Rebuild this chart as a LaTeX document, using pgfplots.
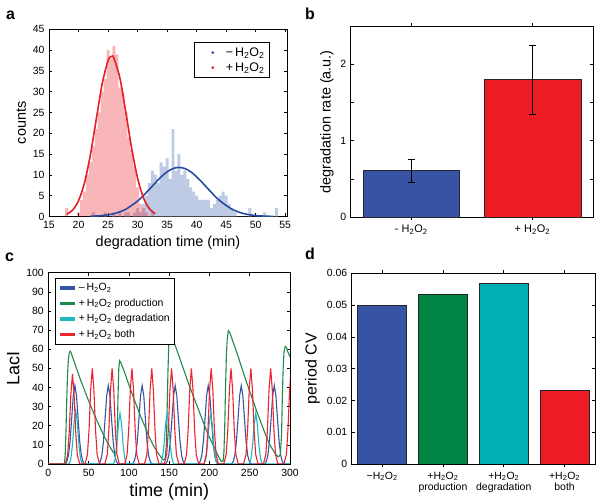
\documentclass[border=0pt]{standalone}
\usepackage{pgfplots}
\pgfplotsset{compat=1.18}
\usepackage{fontspec}
\setmainfont{Liberation Sans}
\definecolor{cblue}{RGB}{55,84,164}
\definecolor{cred}{RGB}{237,28,36}
\definecolor{cgreen}{RGB}{0,133,68}
\definecolor{ccyan}{RGB}{0,174,179}
\definecolor{lblue}{RGB}{52,84,164}
\definecolor{lgreen}{RGB}{30,138,75}
\definecolor{lcyan}{RGB}{30,185,190}
\definecolor{lred}{RGB}{237,35,45}
\definecolor{hblue}{RGB}{191,202,228}
\definecolor{kred}{RGB}{228,30,38}
\definecolor{kblue}{RGB}{40,75,162}
\newcommand\sub[1]{\textsubscript{#1}}
\pgfplotsset{mystyle/.style={
  scale only axis, anchor=south west,
  tick align=inside, major tick length=3bp, minor tick length=2bp,
  every tick/.style={black,line width=0.6bp},
  axis line style={line width=0.7bp},
  tick label style={font=\fontsize{10.5}{12}\selectfont},
  xticklabel style={yshift=-1.5bp},
  yticklabel style={xshift=-1bp},
  /pgf/number format/assume math mode=true,
  label style={font=\fontsize{14.5}{16}\selectfont},
}}
\begin{document}
\begin{tikzpicture}
\path[use as bounding box] (0bp,0bp) rectangle (601bp,501bp);
% panel labels
\node[font=\bfseries\fontsize{16}{17}\selectfont, anchor=base west, inner sep=0pt] at (6bp,481bp) {a};
\node[font=\bfseries\fontsize{16}{17}\selectfont, anchor=base west, inner sep=0pt] at (305bp,481bp) {b};
\node[font=\bfseries\fontsize{16}{17}\selectfont, anchor=base west, inner sep=0pt] at (5bp,239bp) {c};
\node[font=\bfseries\fontsize{16}{17}\selectfont, anchor=base west, inner sep=0pt] at (305bp,241.7bp) {d};

% ---------- panel a ----------
\begin{axis}[mystyle, at={(49bp,284.5bp)}, width=238bp, height=187.2bp,
  xmin=15, xmax=55.3, ymin=0, ymax=45,
  xtick={15,20,...,55}, ytick={0,5,...,45},
  xlabel={degradation time (min)}, ylabel={counts},
  legend style={at={(0.928,0.932)}, anchor=north east, draw=black, line width=0.8bp,
    font=\fontsize{12.5}{14}\selectfont, inner xsep=3bp, inner ysep=3bp, row sep=1bp},
  legend cell align=left,
  legend image code/.code={\path[draw=none,fill=none] (0bp,-2bp) rectangle (26bp,2bp); \fill[#1,draw=none] (15bp,0bp) circle (1.5bp);}]
\addplot[const plot mark left, fill=hblue, draw=none, forget plot] coordinates {
(22.25,1)(22.75,0)(24.25,1)(24.75,0)(25.75,1)(26.25,0)(26.75,1)(27.25,0)(27.75,1)(28.25,1)(28.75,0)
(29.25,1)(29.75,2)(30.25,1)(30.75,3)(31.25,5)(31.75,8)(32.25,11)(32.75,10)(33.25,8)(33.75,13)
(34.25,12)(34.75,14)(35.25,9)(35.75,21)(36.25,11)(36.75,15)(37.25,10)(37.75,11)(38.25,9)(38.75,7)
(39.25,6)(39.75,5)(40.25,4)(40.75,4)(41.25,4)(41.75,4)(42.25,2)(42.75,3)(43.25,4)(43.75,5)
(44.25,6)(44.75,5)(45.25,3)(45.75,2)(46.25,1)(46.75,0)(48.75,2)(49.25,0)(51.25,1)(51.75,0)
(53.25,2)(53.75,0)} \closedcycle;
\addplot[const plot mark left, fill=cred, fill opacity=0.32, draw=none, forget plot] coordinates {
(17.75,2)(18.25,0)(19.75,1)(20.25,4)(20.75,6)(21.25,10)(21.75,13)(22.25,17)(22.75,21)(23.25,25)
(23.75,30)(24.25,33)(24.75,40)(25.25,38)(25.75,41)(26.25,39)(26.75,31)(27.25,30)(27.75,25)
(28.25,19)(28.75,16)(29.25,12)(29.75,7)(30.25,3)(30.75,2)(31.25,1)(31.75,0)(32.25,1)(32.75,0)} \closedcycle;
\addplot[kblue, line width=1.6bp, smooth, forget plot] coordinates {
(22,0.06)(24,0.22)(26,0.68)(28,1.74)(30,3.71)(31,5.04)(32,6.54)(33,8.08)(34,9.54)(35,10.74)(36,11.53)
(37,11.8)(38,11.53)(39,10.74)(40,9.54)(41,8.08)(42,6.54)(43,5.04)(44,3.71)(46,1.74)(48,0.68)(50,0.22)(52,0.06)(53,0.03)};
\addplot[kred, line width=1.6bp, smooth, forget plot] coordinates {
(18,0.54)(19,1.54)(20,3.78)(21,8.05)(22,14.76)(23,23.35)(24,31.85)(25,37.5)(25.6,38.5)(26,38.05)
(27,33.3)(28,25.15)(29,16.37)(30,9.2)(31,4.45)(32,1.86)(33,0.67)};
\addlegendimage{kblue}
\addlegendentry{−\,H\sub2O\sub2}
\addlegendimage{kred}
\addlegendentry{+\,H\sub2O\sub2}
\end{axis}

% ---------- panel b ----------
\begin{axis}[mystyle, at={(350.7bp,283.7bp)}, width=242.3bp, height=191.3bp,
  xmin=0.5, xmax=2.5, ymin=0, ymax=2.5,
  xtick={1,2}, xticklabels={- H\sub2O\sub2, + H\sub2O\sub2},
  xticklabel style={font=\fontsize{11}{12}\selectfont},
  ytick={0,0.5,1,1.5,2,2.5}, yticklabels={0,,1,,2,},
  ylabel={degradation rate (a.u.)},
  ybar, bar width=0.8, bar shift=0pt]
\addplot[fill=cblue, draw=black!85, line width=0.6bp,
  error bars/.cd, y dir=both, y explicit,
  error bar style={black, line width=0.8bp},
  error mark options={rotate=90, black, mark size=3.5bp, line width=0.8bp}]
  coordinates {(1,0.61) +- (0,0.15)};
\addplot[fill=cred, draw=black!85, line width=0.6bp,
  error bars/.cd, y dir=both, y explicit,
  error bar style={black, line width=0.8bp},
  error mark options={rotate=90, black, mark size=3.5bp, line width=0.8bp}]
  coordinates {(2,1.80) +- (0,0.45)};
\end{axis}

% ---------- panel c ----------
\begin{axis}[mystyle, at={(48.3bp,37bp)}, width=241.7bp, height=191.3bp,
  xmin=0, xmax=300, ymin=0, ymax=100,
  xtick={0,50,...,300}, ytick={0,10,...,100},
  xlabel={time (min)}, ylabel={LacI},
  label style={font=\fontsize{18}{20}\selectfont},
  legend style={at={(0.028,0.972)}, anchor=north west, draw=black, line width=0.8bp,
    font=\fontsize{10.5}{12}\selectfont, row sep=2.5bp, inner xsep=3bp, inner ysep=3bp},
  legend cell align=left,
  legend image code/.code={\draw[#1, line width=3.5bp] (0bp,0bp) -- (15bp,0bp);}]
\addplot[lblue, line width=1.1bp] coordinates {
(0,0)(21,0)(23,1.3)(25,4.5)(27,11.8)(29,23.6)(31,35.7)(33,41)(35,35.7)(37,23.6)(39,11.8)(41,4.5)(43,1.3)(45,0)
(62.5,0)(64.5,1.3)(66.5,4.5)(68.5,11.8)(70.5,23.6)(72.5,35.7)(74.5,41)(76.5,35.7)(78.5,23.6)(80.5,11.8)(82.5,4.5)(84.5,1.3)(86.5,0)
(104.5,0)(106.5,1.3)(108.5,4.5)(110.5,11.8)(112.5,23.6)(114.5,35.7)(116.5,41)(118.5,35.7)(120.5,23.6)(122.5,11.8)(124.5,4.5)(126.5,1.3)(128.5,0)
(145.5,0)(147.5,1.3)(149.5,4.5)(151.5,11.8)(153.5,23.6)(155.5,35.7)(157.5,41)(159.5,35.7)(161.5,23.6)(163.5,11.8)(165.5,4.5)(167.5,1.3)(169.5,0)
(186.5,0)(188.5,1.3)(190.5,4.5)(192.5,11.8)(194.5,23.6)(196.5,35.7)(198.5,41)(200.5,35.7)(202.5,23.6)(204.5,11.8)(206.5,4.5)(208.5,1.3)(210.5,0)
(227.5,0)(229.5,1.3)(231.5,4.5)(233.5,11.8)(235.5,23.6)(237.5,35.7)(239.5,41)(241.5,35.7)(243.5,23.6)(245.5,11.8)(247.5,4.5)(249.5,1.3)(251.5,0)
(268.5,0)(270.5,1.3)(272.5,4.5)(274.5,11.8)(276.5,23.6)(278.5,35.7)(280.5,41)(282.5,35.7)(284.5,23.6)(286.5,11.8)(288.5,4.5)(290.5,1.3)(292.5,0)(300,0)};
\addlegendentry{–\,H\sub2O\sub2}
\addplot[lgreen, line width=1.1bp] coordinates {
(0,0)(20,0)(21,5)(22,18)(23,35)(24,48)(25,55)(26,58)(27,59)(28,58.5)(30,56)(35,50)(40,44)(45,38.5)(50,33)(55,28)(60,23)(65,18.5)(70,14)(75,10)(80,6.5)(83,5.2)
(84.5,6.5)(85.5,15)(86.5,35)(87.5,50)(88.5,54)(90,53)(95,47.5)(100,41.5)(105,35.5)(110,30)(115,24.5)(120,19.5)(125,14.5)(130,10)(135,6.5)(140,3.5)(143,2.2)
(145,2.5)(146.5,10)(147.5,28)(148.5,48)(149.5,62)(150.5,67.5)(152,68)(155,65)(160,59)(165,53)(170,47)(175,41)(180,35.5)(185,30)(190,24.5)(195,19)(200,14)(205,9.5)(210,5)(213,2.5)(215,1.3)
(217,1.5)(218,6)(219,20)(220,40)(221,56)(222,65)(223.5,69.7)(225,69)(230,63)(235,57)(240,50.5)(245,44)(250,38)(255,32)(260,26)(265,20.5)(270,15)(275,10)(280,6.5)(284,4.2)(286,3.8)
(288,5)(289.5,15)(290.5,35)(291.5,50)(292.5,58)(294,61.5)(295.5,61)(297,59)(300,56)};
\addlegendentry{+\,H\sub2O\sub2 production}
\addplot[lcyan, line width=1.1bp] coordinates {
(0,0)(26,0)(28,2.8)(30,10)(32,21.7)(34,28)(36,21.7)(38,10)(40,2.8)(42,0)
(81,0)(83,2.7)(85,9.5)(87,20.5)(89,26.5)(91,20.5)(93,9.5)(95,2.7)(97,0)
(139.5,0)(141.5,2.7)(143.5,9.5)(145.5,20.5)(147.5,26.5)(149.5,20.5)(151.5,9.5)(153.5,2.7)(155.5,0)
(193.5,0)(195.5,2.7)(197.5,9.5)(199.5,20.5)(201.5,26.5)(203.5,20.5)(205.5,9.5)(207.5,2.7)(209.5,0)
(249.5,0)(251.5,2.7)(253.5,9.5)(255.5,20.5)(257.5,26.5)(259.5,20.5)(261.5,9.5)(263.5,2.7)(265.5,0)(300,0)};
\addlegendentry{+\,H\sub2O\sub2 degradation}
\addplot[lred, line width=1.1bp] coordinates {
(0,0)(21,0)(24,4.7)(26,17)(28,36.5)(30,47)(32,36.5)(34,17)(36,4.7)(39,0)
(45.6,0)(48.6,5)(50.6,18)(52.6,38.8)(54.6,50)(56.6,38.8)(58.6,18)(60.6,5)(63.6,0)
(70.2,0)(73.2,5)(75.2,18)(77.2,38.8)(79.2,50)(81.2,38.8)(83.2,18)(85.2,5)(88.2,0)
(94.8,0)(97.8,5)(99.8,18)(101.8,38.8)(103.8,50)(105.8,38.8)(107.8,18)(109.8,5)(112.8,0)
(119.4,0)(122.4,5)(124.4,18)(126.4,38.8)(128.4,50)(130.4,38.8)(132.4,18)(134.4,5)(137.4,0)
(144,0)(147,5)(149,18)(151,38.8)(153,50)(155,38.8)(157,18)(159,5)(162,0)
(168.6,0)(171.6,5)(173.6,18)(175.6,38.8)(177.6,50)(179.6,38.8)(181.6,18)(183.6,5)(186.6,0)
(193.2,0)(196.2,5)(198.2,18)(200.2,38.8)(202.2,50)(204.2,38.8)(206.2,18)(208.2,5)(211.2,0)
(217.8,0)(220.8,5)(222.8,18)(224.8,38.8)(226.8,50)(228.8,38.8)(230.8,18)(232.8,5)(235.8,0)
(242.4,0)(245.4,5)(247.4,18)(249.4,38.8)(251.4,50)(253.4,38.8)(255.4,18)(257.4,5)(260.4,0)
(267,0)(270,5)(272,18)(274,38.8)(276,50)(278,38.8)(280,18)(282,5)(285,0)
(292.5,0)(295.5,5)(297.5,18)(299.5,38.8)(301.5,50)};
\addlegendentry{+\,H\sub2O\sub2 both}
\end{axis}

% ---------- panel d ----------
\begin{axis}[mystyle, at={(351.7bp,37bp)}, width=243.3bp, height=190.7bp,
  xmin=0.5, xmax=4.5, ymin=0, ymax=0.06,
  xtick={1,2,3,4},
  xticklabels={{−H\sub2O\sub2},{+H\sub2O\sub2\\production},{+H\sub2O\sub2\\degradation},{+H\sub2O\sub2\\both}},
  xticklabel style={align=center, font=\fontsize{10.5}{11.5}\selectfont},
  ytick={0,0.01,0.02,0.03,0.04,0.05,0.06}, yticklabels={0,0.01,0.02,0.03,0.04,0.05,0.06},
  scaled y ticks=false,
  ylabel={period CV}, label style={font=\fontsize{16}{18}\selectfont},
  ybar, bar width=0.8, bar shift=0pt]
\addplot[fill=cblue, draw=black!85, line width=0.6bp] coordinates {(1,0.0500)};
\addplot[fill=cgreen, draw=black!85, line width=0.6bp] coordinates {(2,0.0534)};
\addplot[fill=ccyan, draw=black!85, line width=0.6bp] coordinates {(3,0.0569)};
\addplot[fill=cred, draw=black!85, line width=0.6bp] coordinates {(4,0.0232)};
\end{axis}
\end{tikzpicture}
\end{document}
